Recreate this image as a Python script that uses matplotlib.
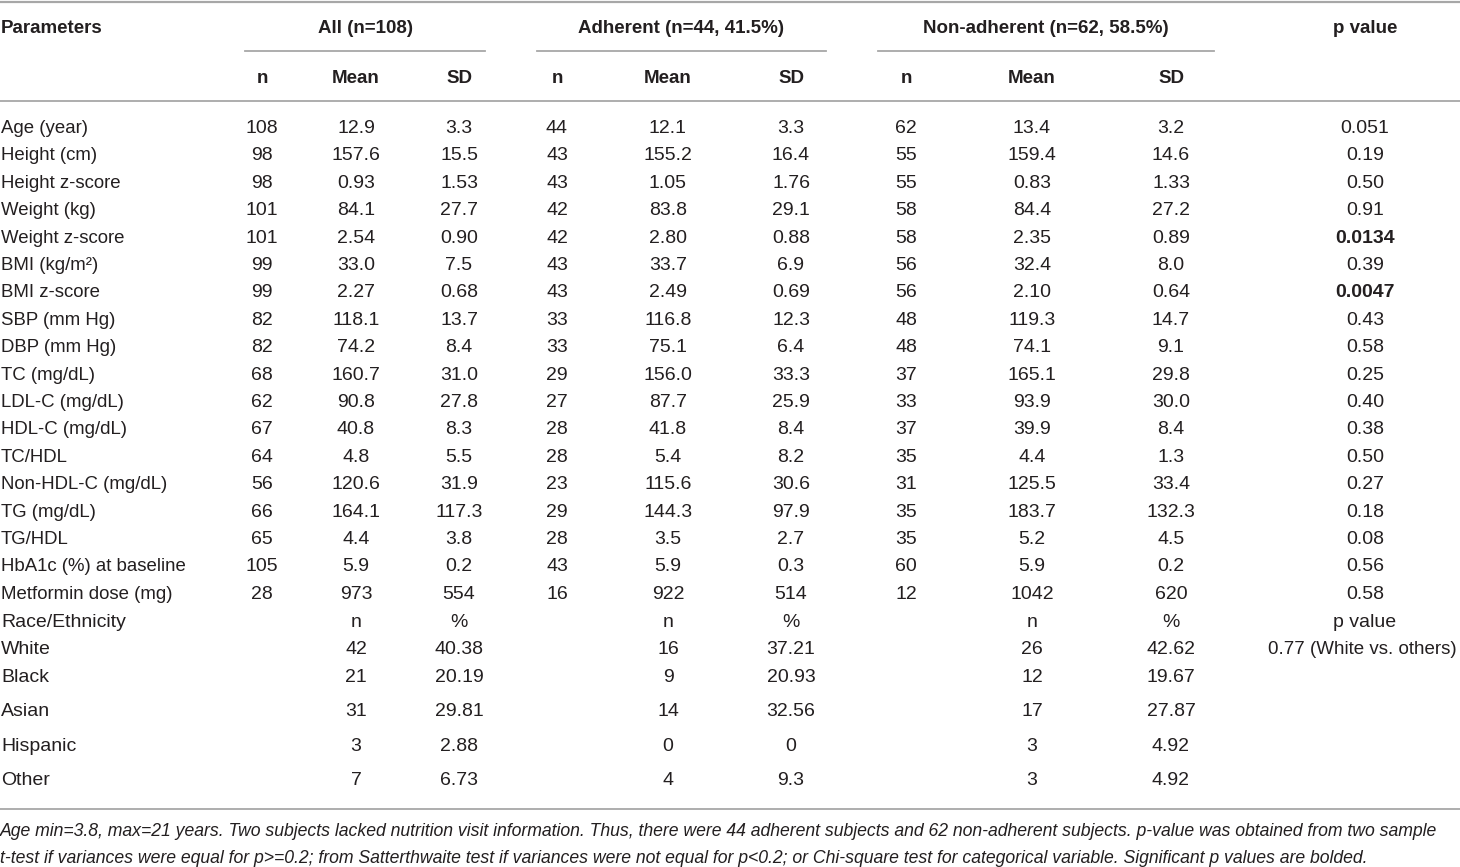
import matplotlib
matplotlib.use("Agg")
import matplotlib.pyplot as plt

# table content
params = ["Age (year)", "Height (cm)", "Height z-score", "Weight (kg)", "Weight z-score",
          "BMI (kg/m²)", "BMI z-score", "SBP (mm Hg)", "DBP (mm Hg)", "TC (mg/dL)",
          "LDL-C (mg/dL)", "HDL-C (mg/dL)", "TC/HDL", "Non-HDL-C (mg/dL)", "TG (mg/dL)",
          "TG/HDL", "HbA1c (%) at baseline", "Metformin dose (mg)"]
all_n = ["108", "98", "98", "101", "101", "99", "99", "82", "82", "68", "62", "67", "64", "56", "66", "65", "105", "28"]
all_mean = ["12.9", "157.6", "0.93", "84.1", "2.54", "33.0", "2.27", "118.1", "74.2", "160.7",
            "90.8", "40.8", "4.8", "120.6", "164.1", "4.4", "5.9", "973"]
all_sd = ["3.3", "15.5", "1.53", "27.7", "0.90", "7.5", "0.68", "13.7", "8.4", "31.0",
          "27.8", "8.3", "5.5", "31.9", "117.3", "3.8", "0.2", "554"]
adh_n = ["44", "43", "43", "42", "42", "43", "43", "33", "33", "29", "27", "28", "28", "23", "29", "28", "43", "16"]
adh_mean = ["12.1", "155.2", "1.05", "83.8", "2.80", "33.7", "2.49", "116.8", "75.1", "156.0",
            "87.7", "41.8", "5.4", "115.6", "144.3", "3.5", "5.9", "922"]
adh_sd = ["3.3", "16.4", "1.76", "29.1", "0.88", "6.9", "0.69", "12.3", "6.4", "33.3",
          "25.9", "8.4", "8.2", "30.6", "97.9", "2.7", "0.3", "514"]
non_n = ["62", "55", "55", "58", "58", "56", "56", "48", "48", "37", "33", "37", "35", "31", "35", "35", "60", "12"]
non_mean = ["13.4", "159.4", "0.83", "84.4", "2.35", "32.4", "2.10", "119.3", "74.1", "165.1",
            "93.9", "39.9", "4.4", "125.5", "183.7", "5.2", "5.9", "1042"]
non_sd = ["3.2", "14.6", "1.33", "27.2", "0.89", "8.0", "0.64", "14.7", "9.1", "29.8",
          "30.0", "8.4", "1.3", "33.4", "132.3", "4.5", "0.2", "620"]
p_vals = ["0.051", "0.19", "0.50", "0.91", "0.0134", "0.39", "0.0047", "0.43", "0.58", "0.25",
          "0.40", "0.38", "0.50", "0.27", "0.18", "0.08", "0.56", "0.58"]
p_bold = ["0.0134", "0.0047"]

races = ["White", "Black", "Asian", "Hispanic", "Other"]
race_all_n = ["42", "21", "31", "3", "7"]
race_all_pct = ["40.38", "20.19", "29.81", "2.88", "6.73"]
race_adh_n = ["16", "9", "14", "0", "4"]
race_adh_pct = ["37.21", "20.93", "32.56", "0", "9.3"]
race_non_n = ["26", "12", "17", "3", "3"]
race_non_pct = ["42.62", "19.67", "27.87", "4.92", "4.92"]
race_p = "0.77 (White vs. others)"

groups = ["All (n=108)", "Adherent (n=44, 41.5%)", "Non-adherent (n=62, 58.5%)"]

footnote = ["Age min=3.8, max=21 years. Two subjects lacked nutrition visit information. Thus, there were 44 adherent subjects and 62 non-adherent subjects. p-value was obtained from two sample",
            "t-test if variances were equal for p>=0.2; from Satterthwaite test if variances were not equal for p<0.2; or Chi-square test for categorical variable. Significant p values are bolded."]

FAM = ["Liberation Sans", "DejaVu Sans"]
FS = 14
TXT = "#231f20"
LINE = "#a7a7a7"

fig = plt.figure(figsize=(14.6, 8.67), dpi=100)
ax = fig.add_axes([0, 0, 1, 1])
ax.set_xlim(0, 1460)
ax.set_ylim(867, 0)
ax.axis("off")

col_x = [262, 356, 459, 557, 668, 791, 906, 1032, 1171]
p_x = 1365

def put(x, y, s, ha="center", fs=FS, **kw):
    ax.text(x, y + 1.5, s, ha=ha, va="center", family=FAM, fontsize=fs, color=TXT, **kw)

# rules
ax.plot([0, 1460], [2, 2], color=LINE, lw=1.6)
ax.plot([0, 1460], [101, 101], color=LINE, lw=1.3)
ax.plot([0, 1460], [809, 809], color=LINE, lw=1.3)
for x0, x1 in [(245, 485), (537, 826), (878, 1214)]:
    ax.plot([x0, x1], [51, 51], color=LINE, lw=1.3)

# headers
put(1, 27, "Parameters", ha="left", fs=13.5, fontweight="bold")
for gx, g in zip([365, 681, 1046], groups):
    put(gx, 27, g, fs=13.5, fontweight="bold")
put(p_x, 27, "p value", fs=13.5, fontweight="bold")
for i, s in enumerate(["n", "Mean", "SD"] * 3):
    put(col_x[i], 77, s, fs=13.5, fontweight="bold")

# numeric rows
y0, dy = 127, 27.4
for i, name in enumerate(params):
    y = y0 + i * dy
    put(1, y, name, ha="left", fs=13.4)
    vals = [all_n[i], all_mean[i], all_sd[i], adh_n[i], adh_mean[i], adh_sd[i],
            non_n[i], non_mean[i], non_sd[i]]
    for x, v in zip(col_x, vals):
        put(x, y, v)
    put(p_x, y, p_vals[i], fontweight="bold" if p_vals[i] in p_bold else "normal")

# race block
race_cols = [356, 459, 668, 791, 1032, 1171]
put(1, 621, "Race/Ethnicity", ha="left")
for x, s in zip(race_cols, ["n", "%"] * 3):
    put(x, 621, s)
put(p_x, 621, "p value")
race_y = [648, 676, 710, 745, 779]
for i, r in enumerate(races):
    y = race_y[i]
    put(1, y, r, ha="left")
    vals = [race_all_n[i], race_all_pct[i], race_adh_n[i], race_adh_pct[i],
            race_non_n[i], race_non_pct[i]]
    for x, v in zip(race_cols, vals):
        put(x, y, v)
put(1457, 648, race_p, ha="right", fs=13.5)

# footnote
for y, line in zip([830, 857], footnote):
    put(0, y, line, ha="left", fs=12.7, style="italic")

fig.savefig("out.png", dpi=100)
